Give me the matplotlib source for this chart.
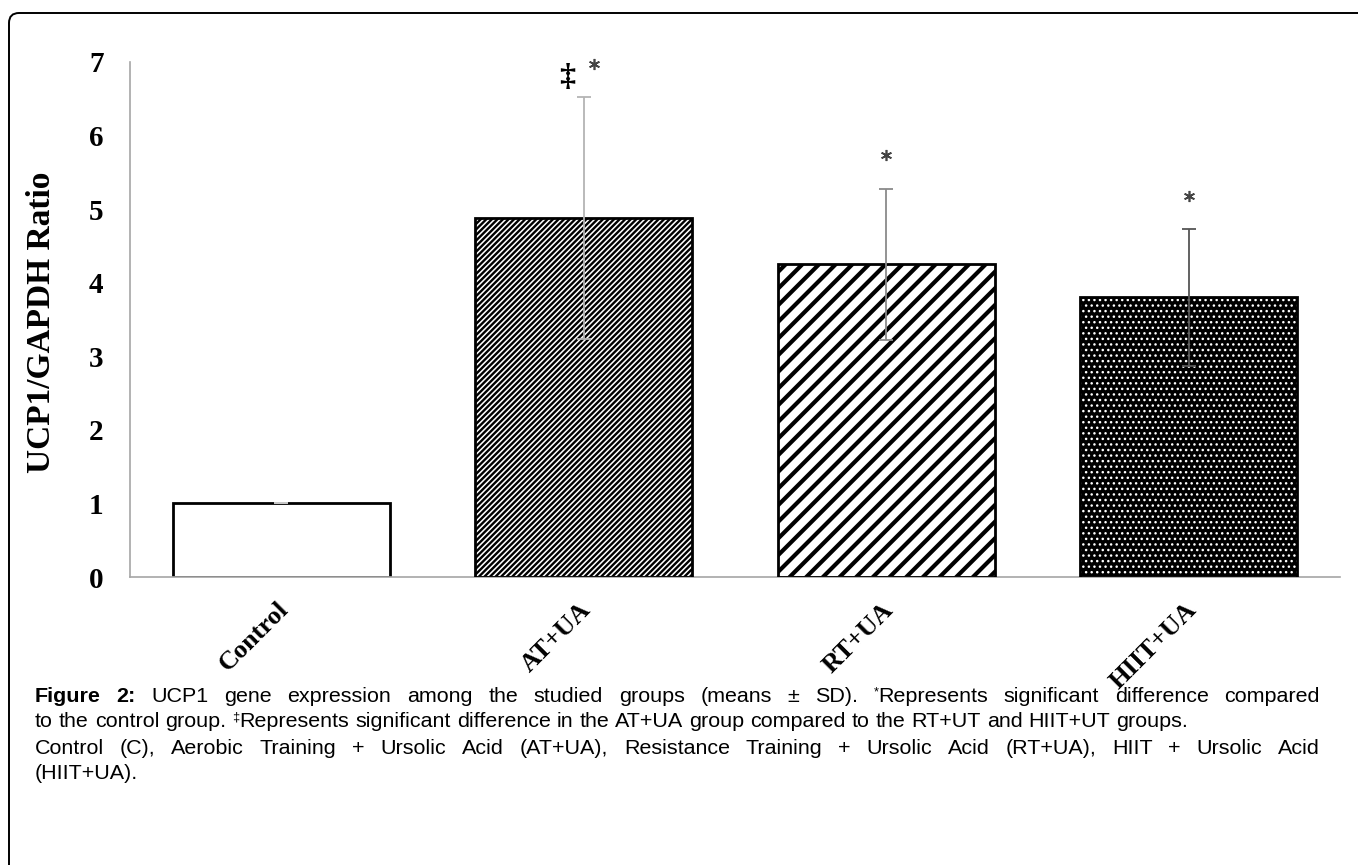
import matplotlib
matplotlib.use('Agg')
import matplotlib.pyplot as plt
from matplotlib.patches import FancyBboxPatch
from matplotlib.transforms import ScaledTranslation

# ---------------- data ----------------
categories = ['Control', 'AT+UA', 'RT+UA', 'HIIT+UA']
means = [1.0, 4.88, 4.25, 3.80]
sds = [0.0, 1.64, 1.03, 0.93]
y_ticks = [0, 1, 2, 3, 4, 5, 6, 7]
star_marks = [False, True, True, True]
dagger_marks = [False, True, False, False]

caption_lines = [
    "Figure 2: UCP1 gene expression among the studied groups (means \u00b1 SD). *Represents significant difference compared",
    "to the control group. \u2021Represents significant difference in the AT+UA group compared to the RT+UT and HIIT+UT groups.",
    "Control (C), Aerobic Training + Ursolic Acid (AT+UA), Resistance Training + Ursolic Acid (RT+UA), HIIT + Ursolic Acid",
    "(HIIT+UA).",
]
caption_justify = [True, False, True, False]

# ---------------- figure ----------------
W, H = 1358, 865
DPI = 100
fig = plt.figure(figsize=(W / DPI, H / DPI), dpi=DPI)

frame = FancyBboxPatch((9 / DPI, -0.5), 14.0, (H - 13) / DPI + 0.5,
                       boxstyle='round,pad=0,rounding_size=0.1',
                       transform=fig.dpi_scale_trans, fill=False,
                       ec='black', lw=1.4)
fig.patches.append(frame)

ax = fig.add_axes([130 / W, 1 - 577 / H, (1340 - 130) / W, (577 - 62) / H])
x = list(range(len(categories)))
bw = 0.716

serif = 'Liberation Serif'

for i in x:
    if i == 0:
        ax.bar(i, means[i], bw, facecolor='white', edgecolor='black', lw=2, zorder=2)
    elif i == 1:
        with plt.rc_context({'hatch.linewidth': 1.7}):
            ax.bar(i, means[i], bw, facecolor='white', edgecolor='black', hatch='//////', lw=0, zorder=2)
        ax.bar(i, means[i], bw, facecolor='none', edgecolor='black', lw=2, zorder=3)
    elif i == 2:
        with plt.rc_context({'hatch.linewidth': 3.0}):
            ax.bar(i, means[i], bw, facecolor='white', edgecolor='black', hatch='//', lw=0, zorder=2)
        ax.bar(i, means[i], bw, facecolor='none', edgecolor='black', lw=2, zorder=3)
    else:
        ax.bar(i, means[i], bw, facecolor='black', edgecolor='black', lw=0, zorder=2)
        with plt.rc_context({'hatch.linewidth': 1.0}):
            ax.bar(i, means[i], bw, facecolor='none', edgecolor='white', hatch='...', lw=0, zorder=2.5)
        ax.bar(i, means[i], bw, facecolor='none', edgecolor='black', lw=2, zorder=3)

err_colors = ['#c8c8c8', '#b4b4b4', '#8a8a8a', '#555555']
for i in x:
    ax.errorbar(i, means[i], yerr=sds[i], fmt='none', ecolor=err_colors[i],
                elinewidth=1.3, capsize=5, capthick=1.3, zorder=4)

for i in x:
    top = means[i] + sds[i]
    if star_marks[i]:
        dx = 0.035 if dagger_marks[i] else 0.0
        ax.plot(i + dx, top + 0.45, marker=(6, 2, 0), ms=8, mew=1.2,
                color='#444444', ls='none', zorder=5, clip_on=False)
    if dagger_marks[i]:
        ax.text(i - 0.055, top + 0.27, '\u2021', ha='center', va='center',
                fontsize=23, fontfamily=serif, fontweight='bold', color='black')

ax.set_xlim(-0.5, len(categories) - 0.5)
ax.set_ylim(0, 7)
ax.set_yticks(y_ticks)
ax.set_yticklabels([str(t) for t in y_ticks], fontfamily=serif,
                   fontweight='bold', fontsize=21)
ax.tick_params(axis='y', length=0, pad=19)
ax.set_xticks(x)
ax.set_xticklabels(categories, rotation=45, ha='right', va='center',
                   rotation_mode='anchor', fontfamily=serif,
                   fontweight='bold', fontsize=19)
ax.tick_params(axis='x', length=0, pad=21)
for lab in ax.get_xticklabels():
    lab.set_transform(lab.get_transform() + ScaledTranslation(0.04, 0, fig.dpi_scale_trans))

for s in ['top', 'right']:
    ax.spines[s].set_visible(False)
for s in ['left', 'bottom']:
    ax.spines[s].set_color('#a6a6a6')
    ax.spines[s].set_linewidth(1.2)

fig.text(42 / W, 1 - 322 / H, 'UCP1/GAPDH Ratio', rotation=90, ha='center',
         va='center', fontfamily=serif, fontweight='bold', fontsize=24)

# ---------------- caption (justified) ----------------
cap_family = 'Liberation Sans'
renderer = fig.canvas.get_renderer()
left_px, right_px = 35, 1320
line2_end = 1190
baselines = [702, 727, 754, 779]


def measure(txt, style, size):
    sz = size * 0.6 if style == 'sup' else size
    t = fig.text(0, 0, txt, fontsize=sz, fontfamily=cap_family,
                 fontweight='bold' if style == 'bold' else 'normal')
    w = t.get_window_extent(renderer).width
    t.remove()
    return w

base = 12.0
cap_size = base * (line2_end - left_px) / measure(caption_lines[1], 'normal', base)


def make_word_runs(word, bold):
    runs = []
    if word and word[0] in '*\u2021':
        runs.append((word[0], 'sup'))
        word = word[1:]
    if word:
        runs.append((word, 'bold' if bold else 'normal'))
    return runs

space_w = measure('a a', 'normal', cap_size) - measure('aa', 'normal', cap_size)

for li, line in enumerate(caption_lines):
    words = line.split(' ')
    word_runs = [make_word_runs(wd, li == 0 and wi < 2) for wi, wd in enumerate(words)]
    widths = [sum(measure(t, s, cap_size) for t, s in runs) for runs in word_runs]
    if caption_justify[li] and len(words) > 1:
        gap = (right_px - left_px - sum(widths)) / (len(words) - 1)
    else:
        gap = space_w
    xp = left_px
    yb = baselines[li]
    for runs, wdt in zip(word_runs, widths):
        xr = xp
        for t, s in runs:
            sz = cap_size * 0.6 if s == 'sup' else cap_size
            yy = yb - 7 if s == 'sup' else yb
            fig.text(xr / W, 1 - yy / H, t, fontsize=sz, fontfamily=cap_family,
                     fontweight='bold' if s == 'bold' else 'normal',
                     ha='left', va='baseline')
            xr += measure(t, s, cap_size)
        xp += wdt + gap

fig.savefig('out.png', dpi=DPI)
